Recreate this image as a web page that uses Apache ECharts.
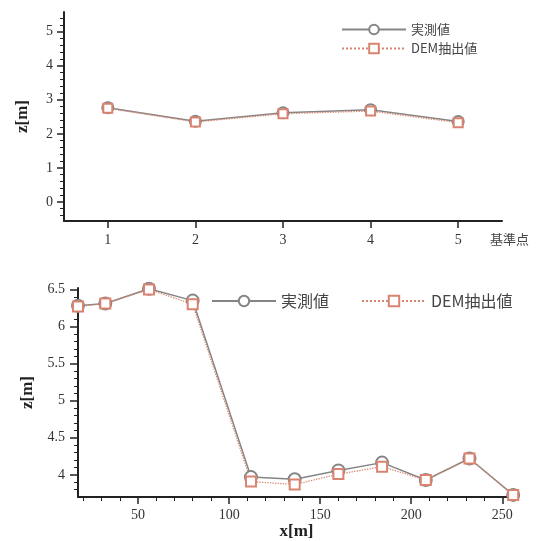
<!DOCTYPE html>
<html><head><meta charset="utf-8">
<script src="https://cdn.jsdelivr.net/npm/echarts@6/dist/echarts.min.js"></script>
<style>html,body{margin:0;padding:0;background:#fff}#c{width:541px;height:541px}</style>
</head><body><div id="c"></div>
<script>
// ---- data ----
const seriesNames = ['実測値', 'DEM抽出値'];
const topX = [1, 2, 3, 4, 5];
const topMeasured = [2.77, 2.37, 2.62, 2.71, 2.36];
const topDem = [2.75, 2.35, 2.59, 2.67, 2.33];
const profX = [17, 32, 56, 80, 112, 136, 160, 184, 208, 232, 256];
const profMeasured = [6.28, 6.31, 6.51, 6.35, 3.97, 3.94, 4.06, 4.165, 3.93, 4.22, 3.73];
const profDem = [6.27, 6.31, 6.50, 6.30, 3.91, 3.87, 4.01, 4.11, 3.93, 4.22, 3.73];
// tick labels
const topYTicks = [0, 1, 2, 3, 4, 5];
const topYMinor = [-0.4, -0.2, 0.2, 0.4, 0.6, 0.8, 1.2, 1.4, 1.6, 1.8, 2.2, 2.4, 2.6, 2.8, 3.2, 3.4, 3.6, 3.8, 4.2, 4.4, 4.6, 4.8, 5.2, 5.4];
const topXTicks = [1, 2, 3, 4, 5];
const botYTicks = [4, 4.5, 5, 5.5, 6, 6.5];
const botYMinor = [3.8, 3.9, 4.1, 4.2, 4.3, 4.4, 4.6, 4.7, 4.8, 4.9, 5.1, 5.2, 5.3, 5.4, 5.6, 5.7, 5.8, 5.9, 6.1, 6.2, 6.3, 6.4];
const botXTicks = [50, 100, 150, 200, 250];
const botXMinor = [20, 30, 40, 60, 70, 80, 90, 110, 120, 130, 140, 160, 170, 180, 190, 210, 220, 230, 240];

const pair = (xs, ys) => xs.map((x, i) => [x, ys[i]]);

const AX = '#222';
const GRAY = '#858585';
const SALMON = '#d98470';
const serif = 'Liberation Serif';
const cjk = 'Noto Sans CJK JP';

function axisBase(extra) {
  return Object.assign({
    type: 'value',
    splitLine: { show: false },
    axisLine: { show: true, onZero: false, lineStyle: { color: AX, width: 2 } },
    axisTick: { show: true, inside: false, length: 7, lineStyle: { color: AX, width: 1.5 } },
    axisLabel: { color: '#333', fontFamily: serif, fontSize: 14 }
  }, extra);
}
function minorAxis(extra, vals, len) {
  return Object.assign({
    type: 'value',
    splitLine: { show: false },
    axisLine: { show: false, onZero: false },
    axisTick: { show: true, length: len, customValues: vals, lineStyle: { color: AX, width: 1 } },
    axisLabel: { show: false }
  }, extra);
}

const chart = echarts.init(document.getElementById('c'));
chart.setOption({
  backgroundColor: '#fff',
  animation: false,
  grid: [
    { left: 64, top: 12, width: 438, height: 209 },
    { left: 78, top: 288, width: 437, height: 211 }
  ],
  xAxis: [
    axisBase({ gridIndex: 0, min: 0.5, max: 5.5,
      name: '基準点', nameLocation: 'end', nameGap: 0,
      nameTextStyle: { fontFamily: cjk, fontSize: 13, color: '#444', align: 'left', verticalAlign: 'top', padding: [12, 0, 0, -12] },
      axisTick: { show: true, length: 7, customValues: topXTicks, lineStyle: { color: AX, width: 1.5 } },
      axisLabel: { color: '#333', fontFamily: serif, fontSize: 14, margin: 12, customValues: topXTicks } }),
    axisBase({ gridIndex: 1, min: 17, max: 257,
      name: 'x[m]', nameLocation: 'middle', nameGap: 23,
      nameTextStyle: { fontFamily: serif, fontSize: 17, fontWeight: 'bold', color: '#222' },
      axisTick: { show: true, length: 7, customValues: botXTicks, lineStyle: { color: AX, width: 1.5 } },
      axisLabel: { color: '#333', fontFamily: serif, fontSize: 14, margin: 11, customValues: botXTicks } }),
    minorAxis({ gridIndex: 1, min: 17, max: 257, position: 'bottom' }, botXMinor, 4)
  ],
  yAxis: [
    axisBase({ gridIndex: 0, min: -0.56, max: 5.58,
      name: 'z[m]', nameLocation: 'middle', nameGap: 33, nameRotate: 90,
      nameTextStyle: { fontFamily: serif, fontSize: 17, fontWeight: 'bold', color: '#222' },
      axisTick: { show: true, length: 7, customValues: topYTicks, lineStyle: { color: AX, width: 1.5 } },
      axisLabel: { color: '#333', fontFamily: serif, fontSize: 14, margin: 11, customValues: topYTicks } }),
    minorAxis({ gridIndex: 0, min: -0.56, max: 5.58, position: 'left' }, topYMinor, 4),
    axisBase({ gridIndex: 1, min: 3.7, max: 6.52,
      name: 'z[m]', nameLocation: 'middle', nameGap: 33, nameRotate: 90,
      nameTextStyle: { fontFamily: serif, fontSize: 17, fontWeight: 'bold', color: '#222' },
      axisTick: { show: true, length: 8, customValues: botYTicks, lineStyle: { color: AX, width: 1.5 } },
      axisLabel: { color: '#333', fontFamily: serif, fontSize: 14, margin: 13, customValues: botYTicks } }),
    minorAxis({ gridIndex: 1, min: 3.7, max: 6.52, position: 'left' }, botYMinor, 4)
  ],
  legend: [
    { orient: 'vertical', left: 336, top: 18, itemWidth: 64, itemHeight: 12, itemGap: 6,
      data: seriesNames, selectedMode: false,
      textStyle: { fontFamily: cjk, fontSize: 13, color: '#444' } },
    { orient: 'horizontal', left: 206, top: 288, itemWidth: 64, itemHeight: 13, itemGap: 32,
      data: seriesNames, selectedMode: false,
      textStyle: { fontFamily: cjk, fontSize: 16, color: '#444' } }
  ],
  series: [
    { name: seriesNames[0], type: 'line', xAxisIndex: 0, yAxisIndex: 0, data: pair(topX, topMeasured),
      symbol: 'emptyCircle', symbolSize: 11, lineStyle: { color: GRAY, width: 1.5 },
      itemStyle: { color: GRAY, borderWidth: 1.5 } },
    { name: seriesNames[1], type: 'line', xAxisIndex: 0, yAxisIndex: 0, data: pair(topX, topDem),
      symbol: 'emptyRect', symbolSize: 9, lineStyle: { color: SALMON, width: 1.3, type: 'dotted' },
      itemStyle: { color: SALMON, borderWidth: 1.5 } },
    { name: seriesNames[0], type: 'line', xAxisIndex: 1, yAxisIndex: 2, data: pair(profX, profMeasured),
      symbol: 'emptyCircle', symbolSize: 12, lineStyle: { color: GRAY, width: 1.5 },
      itemStyle: { color: GRAY, borderWidth: 1.5 } },
    { name: seriesNames[1], type: 'line', xAxisIndex: 1, yAxisIndex: 2, data: pair(profX, profDem),
      symbol: 'emptyRect', symbolSize: 10, lineStyle: { color: SALMON, width: 1.3, type: 'dotted' },
      itemStyle: { color: SALMON, borderWidth: 1.5 } }
  ]
});
</script></body></html>
